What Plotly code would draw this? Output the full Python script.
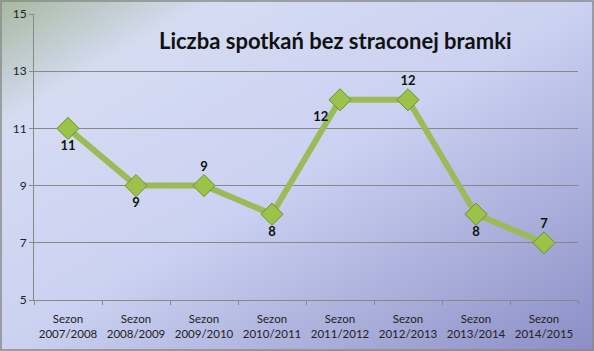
import base64
import plotly.graph_objects as go

categories = ["Sezon<br>2007/2008", "Sezon<br>2008/2009", "Sezon<br>2009/2010", "Sezon<br>2010/2011",
              "Sezon<br>2011/2012", "Sezon<br>2012/2013", "Sezon<br>2013/2014", "Sezon<br>2014/2015"]
values = [11, 9, 9, 8, 12, 12, 8, 7]
label_positions = ["bottom center", "bottom center", "top center", "bottom center",
                   "bottom left", "top center", "bottom center", "top center"]
title_text = "Liczba spotkań bez straconej bramki"
y_ticks = [5, 7, 9, 11, 13, 15]

W, H = 594, 351
ML, MR, MT, MB = 34, 16, 14, 51
pw, ph = W - ML - MR, H - MT - MB

svg = f'''<svg xmlns="http://www.w3.org/2000/svg" width="{W}" height="{H}" preserveAspectRatio="none">
<defs><linearGradient id="g" x1="0" y1="0" x2="1" y2="1">
<stop offset="0" stop-color="#a6b89f"/>
<stop offset="0.18" stop-color="#d5dcf2"/>
<stop offset="0.5" stop-color="#cbd1f1"/>
<stop offset="1" stop-color="#8a8ec6"/>
</linearGradient></defs>
<rect x="0" y="0" width="{W}" height="{H}" fill="url(#g)"/>
</svg>'''
uri = "data:image/svg+xml;base64," + base64.b64encode(svg.encode()).decode()

fig = go.Figure()
fig.add_trace(go.Scatter(
    x=categories, y=values, mode="lines+markers+text",
    line=dict(color="#9bbb59", width=6),
    marker=dict(symbol="diamond", size=17, color="#9dc24a",
                line=dict(color="#6f8f2e", width=1)),
    text=[str(v) for v in values], textposition=label_positions,
    textfont=dict(family="Lato, Arial", size=13, color="#111111", weight="bold"),
    cliponaxis=False, showlegend=False,
))

fig.update_layout(
    width=W, height=H,
    margin=dict(l=ML, r=MR, t=MT, b=MB, autoexpand=False),
    paper_bgcolor="rgba(0,0,0,0)", plot_bgcolor="rgba(0,0,0,0)",
    images=[dict(source=uri, xref="paper", yref="paper",
                 x=-ML / pw, y=1 + MT / ph, sizex=W / pw, sizey=H / ph,
                 xanchor="left", yanchor="top", sizing="stretch", layer="below")],
    shapes=[dict(type="rect", xref="paper", yref="paper",
                 x0=-(ML - 1) / pw, x1=1 + (MR - 1) / pw,
                 y0=-(MB - 1) / ph, y1=1 + (MT - 1) / ph,
                 line=dict(color="#8a8a8a", width=1.5), fillcolor="rgba(0,0,0,0)")],
    annotations=[dict(text=title_text, xref="paper", yref="paper",
                      x=(335 - ML) / pw, y=1 - (40 - MT) / ph,
                      xanchor="center", yanchor="middle", showarrow=False,
                      font=dict(family="Lato, Arial", size=22, color="#111111", weight="bold"))],
    font=dict(family="Lato, Arial", size=11, color="#333333"),
)
fig.update_xaxes(type="category", range=[-0.5, 7.5], showgrid=False, automargin=False,
                 showline=True, linecolor="#888888", linewidth=1,
                 ticks="outside", tickson="boundaries", ticklen=4, tickcolor="#888888",
                 ticklabelstandoff=8,
                 tickfont=dict(size=11.5, color="#222222"))
fig.update_yaxes(range=[5, 15], tickvals=y_ticks, showgrid=True, gridcolor="#888888", gridwidth=1,
                 automargin=False,
                 showline=True, linecolor="#888888", linewidth=1, zeroline=False,
                 ticks="outside", ticklen=4, tickcolor="#888888",
                 tickfont=dict(size=12, color="#222222"))

fig.write_html("out.html")
